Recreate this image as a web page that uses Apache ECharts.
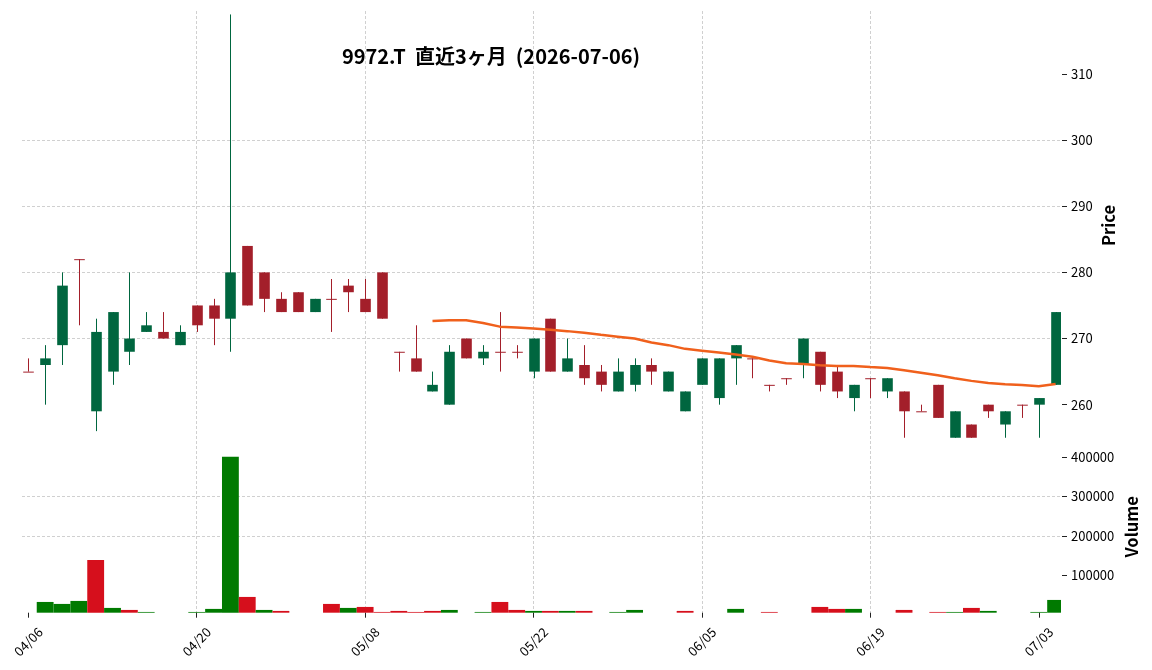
<!DOCTYPE html>
<html>
<head>
<meta charset="utf-8">
<script src="https://cdn.jsdelivr.net/npm/echarts@6/dist/echarts.min.js"></script>
</head>
<body style="margin:0">
<div id="main" style="width:1152px;height:670px"></div>
<script>
// 9972.T daily candles, index 0 = 04/06 ... index 61 = 07/06
var tickPos = [0, 10, 20, 30, 40, 50, 60];
var tickLabels = ['04/06', '04/20', '05/08', '05/22', '06/05', '06/19', '07/03'];
var priceTicks = [260, 270, 280, 290, 300, 310];
var volTicks = [100000, 200000, 300000, 400000];

var opens  = [265,266,269,282,259,265,268,271,271,269, 275,275,273,284,280,276,277,274,276,278,
              276,280,268,267,262,260,270,267,268,268, 265,273,265,266,265,262,263,266,262,259,
              263,261,267,267,263,264,266,268,265,261, 264,262,262,259,263,255,257,260,257,260,
              260,263];
var closes = [265,267,278,282,271,274,270,272,270,271, 272,273,280,275,276,274,274,276,276,277,
              274,273,268,265,263,268,267,268,268,268, 270,265,267,264,263,265,266,265,265,262,
              267,267,269,267,263,264,270,263,262,263, 264,264,259,259,258,259,255,259,259,260,
              261,274];
var lows   = [265,260,266,272,256,263,266,271,270,269, 271,269,268,275,274,274,274,274,271,274,
              274,273,265,265,262,260,267,266,265,267, 264,265,265,263,262,262,262,263,262,259,
              263,260,263,264,262,263,264,262,261,259, 261,261,255,259,258,255,255,258,255,258,
              255,263];
var highs  = [267,269,280,282,273,274,280,274,274,272, 275,276,319,284,280,277,277,276,279,279,
              279,280,268,272,265,269,270,269,274,269, 270,273,270,269,266,267,267,267,265,262,
              267,267,269,267,263,264,270,268,266,263, 264,264,262,260,263,259,257,260,259,260,
              261,274];
var volumes = [0,32600,27600,35200,139000,17500,12400,7300,0,0, 7300,15000,400000,45300,12400,9900,0,0,27600,17500,
               20000,7300,9900,7300,9900,12400,0,7300,32600,12400, 9900,9900,9900,9900,0,7300,12400,0,0,9900,
               0,0,15000,0,7300,0,0,20000,15000,15000, 0,0,12400,0,7300,7300,17500,9900,0,0,
               7300,37700];
// 25-day moving average, starts at index 24
var maStart = 24;
var ma25 = [272.64,272.76,272.76,272.36,271.80,271.68,271.52,271.32,271.12,270.88,
            270.56,270.28,270.00,269.40,269.00,268.44,268.16,267.88,267.60,267.24,
            266.68,266.28,266.16,265.96,265.84,265.84,265.68,265.56,265.20,264.84,
            264.44,264.00,263.60,263.28,263.08,262.96,262.80,263.12];

var UP = '#00663f', DOWN = '#a31f2a';
var VUP = '#007a00', VDOWN = '#d60f1c';
var FONT = 'Noto Sans CJK JP';
var gridLine = { show: true, showMinLine: false, showMaxLine: false,
  lineStyle: { color: '#c4c4c4', width: 0.8, type: [3, 2] } };

var candleData = opens.map(function (o, i) { return [i, o, closes[i], lows[i], highs[i]]; });
var volData = volumes.map(function (v, i) {
  return [i, v, (i > 0 && closes[i] > closes[i - 1]) ? 1 : 0];
});
var maData = ma25.map(function (v, k) { return [maStart + k, v]; });

function clipBox(params) {
  return { x: params.coordSys.x, y: params.coordSys.y,
           width: params.coordSys.width, height: params.coordSys.height };
}

function renderCandle(params, api) {
  var i = api.value(0), o = api.value(1), c = api.value(2), l = api.value(3), h = api.value(4);
  var color = c > o ? UP : DOWN;
  var pO = api.coord([i, o]), pC = api.coord([i, c]);
  var pH = api.coord([i, h]), pL = api.coord([i, l]);
  var w = api.size([0.63, 0])[0];
  var x = Math.round(pO[0]) + 0.5;
  var top = Math.min(pO[1], pC[1]);
  var hgt = Math.max(Math.abs(pO[1] - pC[1]), 1);
  return {
    type: 'group',
    children: [
      { type: 'line', shape: { x1: x, y1: pH[1], x2: x, y2: pL[1] },
        style: { stroke: color, lineWidth: 1 } },
      { type: 'rect', shape: { x: x - w / 2, y: top, width: w, height: hgt },
        style: { fill: color } }
    ]
  };
}

function renderVolume(params, api) {
  var i = api.value(0), v = api.value(1);
  if (!v) return null;
  var pTop = api.coord([i, v]);
  var pBase = api.coord([i, 0]);
  var w = api.size([1, 0])[0];
  var shape = echarts.graphic.clipRectByRect(
    { x: pTop[0] - w / 2, y: pTop[1], width: w, height: pBase[1] - pTop[1] },
    clipBox(params));
  if (!shape) return null;
  return { type: 'rect', shape: shape, style: { fill: api.value(2) ? VUP : VDOWN } };
}

var chart = echarts.init(document.getElementById('main'));
var option = {
  animation: false,
  textStyle: { fontFamily: FONT },
  graphic: [{
    type: 'text', x: 491, y: 56,
    style: { text: '9972.T  直近3ヶ月  (2026-07-06)',
      font: 'bold 20px "Noto Sans CJK JP"', fill: '#000',
      textAlign: 'center', textVerticalAlign: 'middle' }
  }],
  grid: [
    { left: 22, right: 91, top: 11, height: 429 },
    { left: 22, right: 91, top: 441, height: 171.7 }
  ],
  xAxis: [
    { type: 'value', gridIndex: 0, min: -0.375, max: 61.32,
      axisLine: { show: false, onZero: false },
      axisTick: { show: false, customValues: tickPos },
      axisLabel: { show: false, customValues: tickPos },
      splitLine: gridLine },
    { type: 'value', gridIndex: 1, min: -0.375, max: 61.32,
      axisLine: { show: false, onZero: false },
      axisTick: { show: true, customValues: tickPos, length: 5, lineStyle: { color: '#222' } },
      axisLabel: { customValues: tickPos, rotate: 45, align: 'center', verticalAlign: 'middle',
        margin: 29, fontSize: 13, color: '#000', fontFamily: FONT,
        formatter: function (v) { return tickLabels[tickPos.indexOf(Math.round(v))] || ''; } },
      splitLine: gridLine }
  ],
  yAxis: [
    { type: 'value', gridIndex: 0, position: 'right', offset: 1, min: 254.66, max: 319.52,
      axisLine: { show: false, onZero: false },
      axisTick: { show: true, length: 5, customValues: priceTicks, lineStyle: { color: '#222' } },
      axisLabel: { customValues: priceTicks, margin: 9, fontSize: 13, color: '#000', fontFamily: FONT,
        formatter: function (v) { return String(v); } },
      splitLine: gridLine,
      name: 'Price', nameLocation: 'middle', nameRotate: 90, nameGap: 38, nameMoveOverlap: false,
      nameTextStyle: { fontSize: 16.5, fontWeight: 'bold', color: '#000', fontFamily: FONT } },
    { type: 'value', gridIndex: 1, position: 'right', offset: 1, min: 5400, max: 440000,
      axisLine: { show: false, onZero: false },
      axisTick: { show: true, length: 5, customValues: volTicks, lineStyle: { color: '#222' } },
      axisLabel: { customValues: volTicks, margin: 9, fontSize: 13, color: '#000', fontFamily: FONT,
        formatter: function (v) { return String(v); } },
      splitLine: gridLine,
      name: 'Volume', nameLocation: 'middle', nameRotate: 90, nameGap: 61, nameMoveOverlap: false,
      nameTextStyle: { fontSize: 16.5, fontWeight: 'bold', color: '#000', fontFamily: FONT } }
  ],
  series: [
    { type: 'custom', name: 'candle', xAxisIndex: 0, yAxisIndex: 0,
      renderItem: renderCandle, encode: { x: 0, y: [1, 2, 3, 4] }, data: candleData, clip: true, z: 2 },
    { type: 'line', name: 'MA25', xAxisIndex: 0, yAxisIndex: 0, data: maData,
      showSymbol: false, symbol: 'none', lineStyle: { color: '#f0601c', width: 2.5 }, z: 3 },
    { type: 'custom', name: 'volume', xAxisIndex: 1, yAxisIndex: 1,
      renderItem: renderVolume, encode: { x: 0, y: 1 }, data: volData, z: 2 }
  ]
};
chart.setOption(option);
</script>
</body>
</html>
